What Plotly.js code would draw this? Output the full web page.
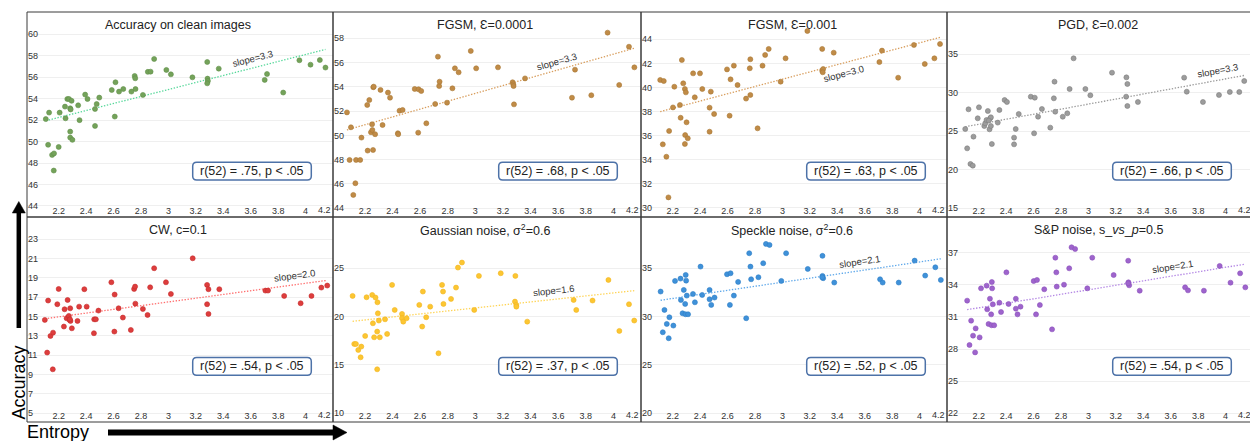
<!DOCTYPE html>
<html><head><meta charset="utf-8">
<script src="https://cdn.plot.ly/plotly-3.0.1.min.js"></script>
<style>html,body{margin:0;padding:0;overflow:hidden;background:#fff}#chart{width:1256px;height:441px}</style>
</head><body><div id="chart"></div>
<script>
// ---------------- data ----------------
const panelTitles = ["Accuracy on clean images", "FGSM, Ɛ=0.0001", "FGSM, Ɛ=0.001", "PGD, Ɛ=0.002",
  "CW, c=0.1", "Gaussian noise, σ<sup>2</sup>=0.6", "Speckle noise, σ<sup>2</sup>=0.6", "S&amp;P noise, s_<i>vs</i>_<i>p</i>=0.5"];
const corrLabels = ["r(52) = .75, p &lt; .05", "r(52) = .68, p &lt; .05", "r(52) = .63, p &lt; .05", "r(52) = .66, p &lt; .05",
  "r(52) = .54, p &lt; .05", "r(52) = .37, p &lt; .05", "r(52) = .52, p &lt; .05", "r(52) = .54, p &lt; .05"];
const slopeLabels = ["slope=3.3", "slope=3.3", "slope=3.0", "slope=3.3", "slope=2.0", "slope=1.6", "slope=2.1", "slope=2.1"];
const xTickVals = [2.2, 2.4, 2.6, 2.8, 3, 3.2, 3.4, 3.6, 3.8, 4, 4.2];
const yTickVals = [
  [44, 46, 48, 50, 52, 54, 56, 58, 60],
  [44, 46, 48, 50, 52, 54, 56, 58],
  [30, 32, 34, 36, 38, 40, 42, 44],
  [15, 20, 25, 30, 35],
  [5, 7, 9, 11, 13, 15, 17, 19, 21, 23],
  [10, 15, 20, 25],
  [20, 25, 30, 35],
  [22, 25, 28, 31, 34, 37]
];

const cleanX = [2.106,2.13,2.123,2.152,2.166,2.164,2.2,2.207,2.246,2.25,2.263,2.275,2.284,2.287,2.294,2.284,2.284,2.3,2.342,2.352,2.393,2.41,2.465,2.477,2.465,2.496,2.587,2.614,2.609,2.64,2.671,2.73,2.754,2.758,2.76,2.814,2.85,2.87,2.896,2.985,3.018,3.175,3.283,3.285,3.288,3.283,3.367,3.702,3.719,3.837,3.955,4.036,4.104,4.145];
const cleanY = [52.1,52.7,49.7,48.76,48.9,47.3,49.5,52.7,53.26,52.17,53.97,53.97,53.1,53.0,53.8,50.93,50.37,50.16,53.38,52.0,54.38,53.97,53.04,53.5,51.46,54.1,54.81,55.53,52.33,54.66,54.9,54.66,56.12,55.9,54.9,54.35,56.5,56.52,57.7,56.68,56.27,55.99,57.42,55.87,55.65,55.43,56.8,55.75,56.3,54.57,57.58,57.17,57.6,56.9];

const fgsm1X = [2.07,2.089,2.099,2.116,2.131,2.136,2.166,2.175,2.22,2.217,2.232,2.244,2.252,2.254,2.259,2.261,2.264,2.274,2.313,2.328,2.367,2.382,2.439,2.441,2.451,2.473,2.561,2.589,2.608,2.586,2.645,2.709,2.729,2.738,2.741,2.795,2.834,2.852,2.879,2.967,3.006,3.164,3.27,3.275,3.28,3.36,3.7,3.722,3.84,3.958,4.042,4.113,4.152,3.277];
const fgsm1Y = [51.9,47.98,50.67,45.1,46.06,47.98,47.98,49.82,48.75,52.51,52.92,50.26,50.92,50.45,48.8,53.97,54.02,50.1,53.75,50.86,53.53,53.11,50.18,50.1,52.04,52.1,53.83,53.8,53.66,50.23,51.0,52.59,56.49,54.07,54.43,52.7,53.88,55.53,55.2,56.96,55.53,55.61,54.38,54.21,52.56,54.7,53.11,55.42,53.31,58.47,54.16,57.31,55.61,54.07];

const fgsm2X = [2.109,2.135,2.128,2.154,2.169,2.174,2.202,2.212,2.253,2.258,2.267,2.277,2.289,2.296,2.301,2.291,2.289,2.31,2.349,2.361,2.399,2.416,2.469,2.469,2.478,2.502,2.596,2.622,2.646,2.615,2.673,2.735,2.762,2.766,2.766,2.819,2.855,2.874,2.9,2.987,3.023,3.182,3.29,3.29,3.297,3.294,3.374,3.707,3.726,3.844,3.959,4.038,4.108,4.149];
const fgsm2Y = [40.62,40.53,35.27,34.24,30.86,36.38,38.34,40.06,38.54,37.48,42.28,40.34,39.87,39.59,37.1,36.04,35.3,35.77,41.17,39.18,41.17,39.87,38.32,36.32,39.65,37.79,41.5,40.67,41.81,37.65,40.2,39.07,41.59,42.34,39.37,36.6,41.81,42.7,43.2,40.48,42.42,44.69,43.2,41.39,41.53,41.26,42.89,42.11,43.06,40.81,43.53,41.95,42.42,43.61];

const pgdX = [2.102,2.116,2.126,2.14,2.157,2.162,2.193,2.202,2.241,2.248,2.257,2.267,2.279,2.284,2.289,2.289,2.296,2.339,2.351,2.389,2.406,2.458,2.458,2.47,2.492,2.58,2.609,2.604,2.633,2.661,2.722,2.748,2.753,2.758,2.813,2.846,2.863,2.892,2.978,3.014,3.172,3.277,3.284,3.275,3.284,3.361,3.698,3.717,3.835,3.952,4.031,4.1,4.136,2.274];
const pgdY = [25.3,22.79,27.86,20.76,20.54,24.31,26.69,28.12,25.69,26.04,26.47,27.64,25.26,26.69,25.69,26.82,23.35,26.13,27.77,29.07,28.81,24.18,23.31,25.3,27.25,29.5,29.37,24.74,26.9,27.9,25.48,29.29,31.45,27.55,26.9,27.34,30.5,34.48,30.5,29.68,32.62,32.01,31.15,29.5,28.29,28.81,31.97,30.15,28.81,29.72,30.11,30.11,31.54,26.39];

const cwX = [2.099,2.116,2.123,2.14,2.157,2.159,2.19,2.2,2.238,2.243,2.258,2.265,2.274,2.279,2.284,2.286,2.296,2.337,2.349,2.387,2.404,2.457,2.459,2.471,2.49,2.584,2.608,2.606,2.637,2.668,2.726,2.75,2.757,2.759,2.814,2.848,2.867,2.896,2.982,3.018,3.177,3.282,3.292,3.282,3.292,3.371,3.707,3.726,3.844,3.964,4.043,4.115,4.158,2.282];
const cwY = [14.66,11.28,16.66,13.0,9.55,13.34,16.28,17.86,13.97,15.76,14.83,16.72,15.07,14.66,15.86,14.55,13.79,14.55,16.03,17.83,16.03,13.28,14.72,14.72,15.62,18.55,17.28,13.45,15.86,14.9,13.62,17.86,18.1,16.34,15.79,15.17,18.03,20.0,18.55,17.34,21.03,18.28,17.83,16.28,15.28,17.83,17.69,17.69,17.14,16.38,17.14,18.0,18.21,14.72];

const gaussX = [2.111,2.123,2.135,2.152,2.169,2.174,2.202,2.212,2.253,2.258,2.267,2.277,2.291,2.294,2.289,2.289,2.301,2.308,2.346,2.361,2.397,2.416,2.469,2.469,2.478,2.502,2.594,2.62,2.644,2.615,2.673,2.733,2.759,2.766,2.769,2.824,2.86,2.874,2.903,2.992,3.026,3.184,3.29,3.287,3.297,3.297,3.376,3.712,3.731,3.849,3.964,4.043,4.113,4.151];
const gaussY = [22.14,17.17,17.17,16.55,15.79,16.9,18.0,22.0,22.24,19.31,17.86,21.97,21.48,20.34,18.45,14.55,19.59,17.86,19.72,18.21,23.28,20.69,20.28,19.83,19.48,19.83,21.21,22.59,19.93,18.97,21.03,16.21,23.28,22.59,21.31,21.83,23.0,25.07,25.59,20.69,24.21,24.48,24.21,21.55,21.21,21.03,19.48,21.72,20.69,21.66,23.79,18.52,21.28,19.59];

const speckleX = [2.112,2.128,2.14,2.157,2.171,2.176,2.205,2.217,2.257,2.26,2.272,2.281,2.291,2.293,2.295,2.298,2.303,2.312,2.348,2.362,2.403,2.415,2.469,2.469,2.481,2.505,2.596,2.622,2.617,2.646,2.677,2.736,2.758,2.767,2.772,2.825,2.86,2.88,2.906,2.992,3.027,3.185,3.292,3.292,3.297,3.29,3.378,3.712,3.731,3.848,3.964,4.041,4.115,4.155];
const speckleY = [32.59,28.38,30.69,29.24,27.76,29.93,29.07,33.69,33.93,31.72,30.34,32.76,31.31,30.24,34.31,33.72,32.17,30.24,32.34,31.48,35.17,32.24,32.76,31.79,31.21,31.97,34.38,34.48,31.21,32.17,33.59,29.83,36.55,35.17,33.86,34.07,35.52,37.52,37.41,33.69,36.55,34.93,36.28,34.21,33.97,34.07,33.52,33.86,33.52,33.52,35.79,34.24,35.1,33.79];

const spX = [2.116,2.133,2.145,2.159,2.174,2.178,2.207,2.217,2.258,2.262,2.272,2.282,2.291,2.294,2.296,2.298,2.303,2.313,2.351,2.363,2.402,2.418,2.471,2.471,2.483,2.505,2.601,2.625,2.618,2.646,2.678,2.735,2.759,2.766,2.769,2.822,2.86,2.877,2.903,2.992,3.028,3.184,3.29,3.292,3.297,3.29,3.374,3.705,3.726,3.842,3.957,4.036,4.106,4.144];
const spY = [32.52,28.38,30.65,29.25,27.69,29.93,29.09,33.67,33.92,31.71,30.34,32.7,31.24,30.22,34.26,33.67,32.18,30.22,32.33,31.46,35.16,32.21,32.7,31.77,31.24,31.96,34.35,34.45,31.24,32.11,33.58,29.84,36.53,35.16,33.83,34.01,35.54,37.5,37.34,33.67,36.53,34.91,36.25,34.23,33.95,34.14,33.45,33.76,33.48,33.45,35.76,34.2,35.07,33.76];

// ---------------- styles ----------------
const seriesX = [cleanX, fgsm1X, fgsm2X, pgdX, cwX, gaussX, speckleX, spX];
const seriesY = [cleanY, fgsm1Y, fgsm2Y, pgdY, cwY, gaussY, speckleY, spY];
const dotColor  = ['#74a25a', '#c08b47', '#c08b47', '#9c9c9c', '#dd3d3d', '#fcc632', '#3f91d9', '#9e64cc'];
const dotLine   = ['#62904a', '#aa7836', '#aa7836', '#7e7e7e', '#c62c2c', '#f2b520', '#2e7ec6', '#8b51bc'];
const trendColor= ['#56d89a', '#d89e5e', '#d89e5e', '#9a9a9a', '#ff6e6e', '#ffd455', '#5fa8ea', '#b386e4'];
const yRanges = [[42.97, 62.08], [43.28, 60.17], [29.23, 46.27], [13.87, 40.5], [4.1, 25.3], [9.1, 30.3], [19.1, 40.3], [21.19, 40.33]];
const xRange = [1.969, 4.2];
const slopeAtX = [3.615, 3.59, 3.448, 3.94, 3.92, 3.568, 3.56, 3.616];
const slopeShift = [9, 9, -11, 10, 9, 9, 9, 9];

const W = 1256, H = 441;
const colL = [27, 333, 641, 947], colR = [333, 641, 947, 1253];
const rowT = [12, 217], rowB = [217, 422];
const FONT = 'Liberation Sans, Arial, sans-serif';
const px = v => v / W, py = v => 1 - v / H;

function ols(x, y) {
  const n = x.length;
  let sx = 0, sy = 0, sxx = 0, sxy = 0;
  for (let i = 0; i < n; i++) { sx += x[i]; sy += y[i]; sxx += x[i] * x[i]; sxy += x[i] * y[i]; }
  const b = (n * sxy - sx * sy) / (n * sxx - sx * sx);
  const a = (sy - b * sx) / n;
  return [a, b];
}

const data = [], annotations = [], shapes = [];
const layout = {
  width: W, height: H, margin: {l: 0, r: 0, t: 0, b: 0},
  paper_bgcolor: '#fff', plot_bgcolor: '#fff', showlegend: false,
  font: {family: FONT, color: '#333'},
};

const edgeTick = xTickVals[xTickVals.length - 1];

for (let i = 0; i < 8; i++) {
  const c = i % 4, r = Math.floor(i / 4);
  const s = i === 0 ? '' : String(i + 1);
  const xa = 'x' + s, ya = 'y' + s;
  // x labels sit above the bottom frame line, y labels right of the left frame line
  layout['xaxis' + s] = {
    domain: [px(colL[c]), px(colR[c])], anchor: 'free', position: py(rowB[r]), side: 'top', range: xRange,
    tickvals: xTickVals, ticklabelposition: 'outside', ticklabeloverflow: 'hide past domain', ticks: '',
    ticklabelstandoff: 1,
    showgrid: false, zeroline: false, showline: false,
    tickfont: {size: 9, color: '#333', family: FONT}, fixedrange: true
  };
  layout['yaxis' + s] = {
    domain: [py(rowB[r]), py(rowT[r])], anchor: 'free', position: px(colL[c]), side: 'right', range: yRanges[i],
    tickvals: yTickVals[i], ticklabelposition: 'outside', ticklabeloverflow: 'allow', ticks: '',
    ticklabelstandoff: 0,
    showgrid: true, gridcolor: '#efefef', gridwidth: 1, zeroline: false, showline: false,
    tickfont: {size: 9, color: '#333', family: FONT}, fixedrange: true
  };
  const X = seriesX[i], Y = seriesY[i];
  const [a, b] = ols(X, Y);
  const x0 = Math.min(...X), x1 = Math.max(...X);
  data.push({type: 'scatter', mode: 'lines', x: [x0, x1], y: [a + b * x0, a + b * x1], xaxis: xa, yaxis: ya,
    line: {color: trendColor[i], width: 1.3, dash: '1.4px,1.6px'}, hoverinfo: 'skip'});
  data.push({type: 'scatter', mode: 'markers', x: X, y: Y, xaxis: xa, yaxis: ya,
    marker: {size: 5, color: dotColor[i], line: {width: 0.6, color: dotLine[i]}}, hoverinfo: 'skip'});

  // panel frame
  shapes.push({type: 'rect', xref: xa + ' domain', yref: ya + ' domain', x0: 0, x1: 1, y0: 0, y1: 1,
    line: {color: '#3a3a3a', width: 1}, fillcolor: 'rgba(0,0,0,0)', layer: 'above'});

  // edge tick label (the last tick sits on the frame, so its label is right-aligned to it)
  annotations.push({xref: xa, yref: ya + ' domain', x: edgeTick, y: 0, xanchor: 'right', yanchor: 'bottom',
    text: String(edgeTick), showarrow: false, font: {size: 9, color: '#333', family: FONT}});

  // slope text along the line
  const wpx = colR[c] - colL[c], hpx = rowB[r] - rowT[r];
  const pxU = wpx / (xRange[1] - xRange[0]), pyU = hpx / (yRanges[i][1] - yRanges[i][0]);
  const ang = -Math.atan(b * pyU / pxU) * 180 / Math.PI;
  annotations.push({xref: xa, yref: ya, x: slopeAtX[i], y: a + b * slopeAtX[i], yshift: slopeShift[i],
    text: slopeLabels[i], showarrow: false, textangle: ang, font: {size: 9.5, color: '#333', family: FONT}});

  // panel title
  annotations.push({xref: 'paper', yref: 'paper', x: px((colL[c] + colR[c]) / 2 - 2), y: py(rowT[r] + 13.5),
    text: panelTitles[i], showarrow: false, xanchor: 'center', yanchor: 'middle',
    font: {size: 12.5, color: '#222', family: FONT}});

  // correlation box
  const cx = colL[c] + 225, cy = r === 0 ? 171.2 : 366.3;
  const bw = 118.6, bh = 17.8, rr = 4;
  const x0b = cx - bw / 2, x1b = cx + bw / 2, y0b = cy - bh / 2, y1b = cy + bh / 2;
  const P = (u, v) => px(u) + ',' + py(v);
  const path = 'M' + P(x0b + rr, y0b) + ' L' + P(x1b - rr, y0b) + ' Q' + P(x1b, y0b) + ' ' + P(x1b, y0b + rr) +
    ' L' + P(x1b, y1b - rr) + ' Q' + P(x1b, y1b) + ' ' + P(x1b - rr, y1b) +
    ' L' + P(x0b + rr, y1b) + ' Q' + P(x0b, y1b) + ' ' + P(x0b, y1b - rr) +
    ' L' + P(x0b, y0b + rr) + ' Q' + P(x0b, y0b) + ' ' + P(x0b + rr, y0b) + ' Z';
  shapes.push({type: 'path', xref: 'paper', yref: 'paper', path: path, fillcolor: '#fff',
    line: {color: '#4d72a8', width: 1.5}, layer: 'above'});
  annotations.push({xref: 'paper', yref: 'paper', x: px(cx), y: py(cy), text: corrLabels[i], showarrow: false,
    xanchor: 'center', yanchor: 'middle', font: {size: 12.5, color: '#222', family: FONT}});
}

// axis captions and arrows
annotations.push({xref: 'paper', yref: 'paper', x: px(18.5), y: py(383), text: 'Accuracy', showarrow: false,
  textangle: -90, xanchor: 'center', yanchor: 'middle', font: {size: 18, color: '#000', family: FONT}});
annotations.push({xref: 'paper', yref: 'paper', x: px(58.5), y: py(432), text: 'Entropy', showarrow: false,
  xanchor: 'center', yanchor: 'middle', font: {size: 18, color: '#000', family: FONT}});

shapes.push({type: 'line', xref: 'paper', yref: 'paper', x0: px(18.8), x1: px(18.8), y0: py(328), y1: py(211),
  line: {color: '#000', width: 4.5}});
shapes.push({type: 'path', xref: 'paper', yref: 'paper',
  path: 'M' + px(12.3) + ',' + py(213) + ' L' + px(25.3) + ',' + py(213) + ' L' + px(18.8) + ',' + py(201.5) + ' Z',
  fillcolor: '#000', line: {color: '#000', width: 0.5}});
shapes.push({type: 'line', xref: 'paper', yref: 'paper', x0: px(108), x1: px(334), y0: py(432.5), y1: py(432.5),
  line: {color: '#000', width: 6}});
shapes.push({type: 'path', xref: 'paper', yref: 'paper',
  path: 'M' + px(333) + ',' + py(425) + ' L' + px(333) + ',' + py(440) + ' L' + px(347) + ',' + py(432.5) + ' Z',
  fillcolor: '#000', line: {color: '#000', width: 0.5}});

layout.annotations = annotations;
layout.shapes = shapes;

Plotly.newPlot('chart', data, layout, {displayModeBar: false, staticPlot: true});
</script>
</body></html>
